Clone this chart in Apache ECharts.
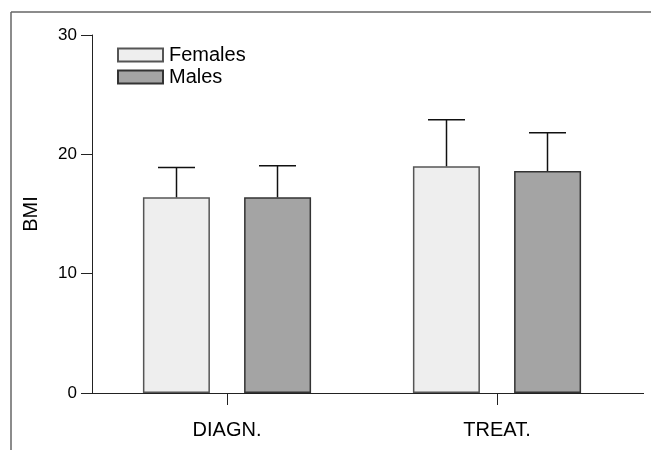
<!DOCTYPE html>
<html>
<head>
<meta charset="utf-8">
<script src="https://cdn.jsdelivr.net/npm/echarts@6/dist/echarts.min.js"></script>
<style>
  html, body { margin: 0; padding: 0; background: #fff; }
  #chart { width: 651px; height: 450px; }
</style>
</head>
<body>
<div id="chart"></div>
<script>
// data
var categories = ['DIAGN.', 'TREAT.'];
var femalesMean = [16.4, 19.0];
var femalesSD = [2.5, 3.9];
var malesMean = [16.4, 18.6];
var malesSD = [2.65, 3.2];
var yTicks = [0, 10, 20, 30];

var chart = echarts.init(document.getElementById('chart'));

// error bar (upper whisker only), side = -1 for females, +1 for males
function errorSeries(name, mean, sd, side) {
  return {
    name: name + ' SD',
    type: 'custom',
    z: 3,
    data: mean.map(function (m, i) { return [i, m, m + sd[i]]; }),
    renderItem: function (params, api) {
      var band = api.size([1, 0])[0];
      var off = side * band * 50.5 / 270;
      var capHalf = band * 18.5 / 270;
      var base = api.coord([api.value(0), api.value(1)]);
      var top = api.coord([api.value(0), api.value(2)]);
      var x = base[0] + off;
      var st = { stroke: '#111', lineWidth: 1.5 };
      return {
        type: 'group',
        children: [
          { type: 'line', shape: { x1: x, y1: base[1], x2: x, y2: top[1] }, style: st },
          { type: 'line', shape: { x1: x - capHalf, y1: top[1], x2: x + capHalf, y2: top[1] }, style: st }
        ]
      };
    }
  };
}

var option = {
  animation: false,
  backgroundColor: '#fff',
  textStyle: { fontFamily: 'Liberation Sans, Arial, sans-serif' },
  grid: { left: 92, top: 35, width: 540, height: 358, outerBoundsMode: 'none' },
  legend: {
    orient: 'vertical',
    left: 112,
    top: 40,
    icon: 'rect',
    itemWidth: 45,
    itemHeight: 13,
    itemGap: 2,
    data: ['Females', 'Males'],
    textStyle: { fontSize: 20, lineHeight: 20, color: '#000', padding: [0, 0, 0, 1] }
  },
  xAxis: {
    type: 'category',
    data: categories,
    axisLine: { lineStyle: { color: '#222', width: 1 } },
    axisTick: { show: true, alignWithLabel: true, length: 12, lineStyle: { color: '#222', width: 1 } },
    axisLabel: { fontSize: 20, color: '#000', margin: 27 }
  },
  yAxis: {
    type: 'value',
    min: yTicks[0],
    max: yTicks[yTicks.length - 1],
    interval: 10,
    name: 'BMI',
    nameLocation: 'middle',
    nameGap: 51,
    nameTextStyle: { fontSize: 20, color: '#000' },
    axisLine: { show: true, lineStyle: { color: '#222', width: 1 } },
    axisTick: { show: true, length: 11, lineStyle: { color: '#222' } },
    axisLabel: { fontSize: 17, color: '#000', margin: 15 },
    splitLine: { show: false }
  },
  series: [
    {
      name: 'Females',
      type: 'bar',
      data: femalesMean,
      barWidth: 67,
      barGap: '51%',
      itemStyle: { color: '#eeeeee', borderColor: '#555', borderWidth: 1.5 }
    },
    {
      name: 'Males',
      type: 'bar',
      data: malesMean,
      barWidth: 67,
      barGap: '51%',
      itemStyle: { color: '#a4a4a4', borderColor: '#333', borderWidth: 1.5 }
    },
    errorSeries('Females', femalesMean, femalesSD, -1),
    errorSeries('Males', malesMean, malesSD, 1)
  ],
  graphic: [
    // outer frame
    { type: 'line', shape: { x1: 11, y1: 12, x2: 11, y2: 450 }, style: { stroke: '#666', lineWidth: 1.5 } },
    { type: 'line', shape: { x1: 11, y1: 12, x2: 651, y2: 12 }, style: { stroke: '#666', lineWidth: 1.5 } },
    // x axis line runs a bit past the last band
    { type: 'line', shape: { x1: 632, y1: 393.5, x2: 644, y2: 393.5 }, style: { stroke: '#222', lineWidth: 1 } }
  ]
};

chart.setOption(option);
</script>
</body>
</html>
